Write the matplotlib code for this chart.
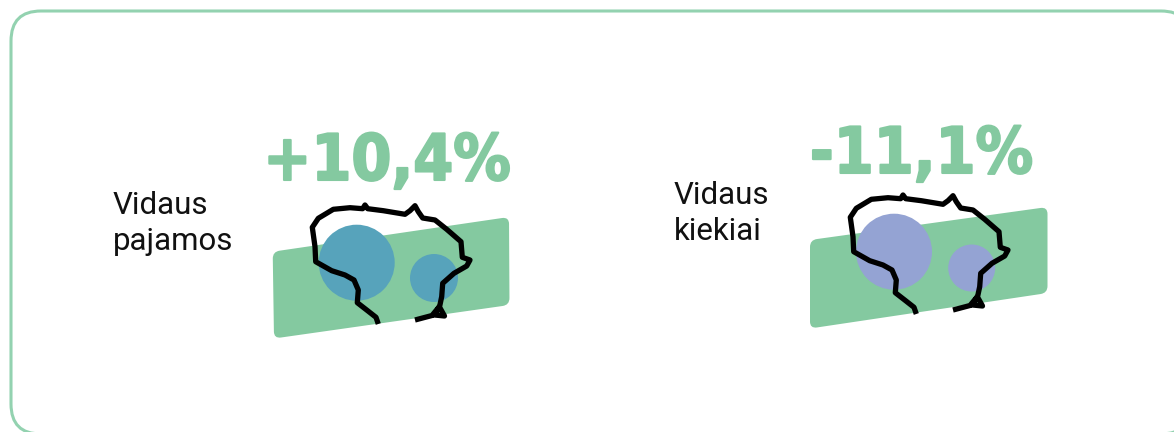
import matplotlib
matplotlib.use("Agg")
import numpy as np
import matplotlib.pyplot as plt
import matplotlib.patheffects as pe
from matplotlib.patches import Circle, FancyBboxPatch, PathPatch
from matplotlib.path import Path

GREEN = "#84c9a0"
BORDER = "#93d2b0"
TEAL = "#57a3bb"
LILAC = "#94a3d3"

labels = [["Vidaus", "pajamos"], ["Vidaus", "kiekiai"]]
values = ["+10,4%", "-11,1%"]
value_x = [387, 921.5]
value_base = [180, 173]
label_x = [113, 674]
label_base = [[214, 250], [204, 240]]
circle_colors = [TEAL, LILAC]
big_circles = [(356.7, 262.7, 38), (894, 251.7, 38)]
small_circles = [(434, 278, 24), (971.7, 268, 23.5)]
bands = [
    [(272.7, 251.7), (509, 217), (509.5, 305), (274, 338.5)],
    [(810, 240), (1047.5, 207), (1047.5, 293), (810, 328.5)],
]
map_offsets = [(0, 0), (538, -10)]
outline_x = [378.3, 376, 366.7, 357.3, 358.3, 354, 345, 331.7, 315.7, 315, 312.3, 318.3,
             333.3, 350, 362.7, 365, 367.7, 383.3, 405, 410, 415, 418.3, 422.7, 435,
             446.7, 461, 462.3, 470, 466.7, 454, 442.7, 441.7, 439.5, 444.5, 434.5, 439, 432, 415]
outline_y = [324, 317.3, 310, 302.7, 290, 280, 275, 270.7, 261.7, 246.7, 227.3, 218.3,
             209.3, 207.7, 208.7, 205, 208.7, 210.7, 214.3, 210.7, 205.7, 211.7, 218, 220,
             229.3, 241.7, 257.3, 260, 266, 273.3, 283.3, 296.7, 307, 316, 315, 307, 315.5, 320]


def rounded_poly(corners, r):
    # polygon with its corners cut by quadratic curves
    pts = np.array(corners, dtype=float)
    verts, codes = [], []
    for i in range(len(pts)):
        p, prev, nxt = pts[i], pts[i - 1], pts[(i + 1) % len(pts)]
        a = p + (prev - p) / np.linalg.norm(prev - p) * r
        b = p + (nxt - p) / np.linalg.norm(nxt - p) * r
        verts += [a, p, b]
        codes += [Path.LINETO if i else Path.MOVETO, Path.CURVE3, Path.CURVE3]
    verts.append(verts[0])
    codes.append(Path.CLOSEPOLY)
    return Path(verts, codes)


fig = plt.figure(figsize=(11.74, 4.32), dpi=100)
ax = fig.add_axes([0, 0, 1, 1])
ax.set_xlim(0, 1174)
ax.set_ylim(432, 0)
ax.axis("off")

ax.add_patch(FancyBboxPatch((11, 11), 1180, 423, boxstyle="round,pad=0,rounding_size=30",
                            fc="white", ec=BORDER, lw=2.2))

for i in range(2):
    ax.add_patch(PathPatch(rounded_poly(bands[i], 7), fc=GREEN, ec="none", zorder=2))
    for c in (big_circles[i], small_circles[i]):
        ax.add_patch(Circle(c[:2], c[2], fc=circle_colors[i], ec="none", zorder=3))
    dx, dy = map_offsets[i]
    ax.plot(np.array(outline_x) + dx, np.array(outline_y) + dy, color="black", lw=3.8,
            solid_joinstyle="round", solid_capstyle="butt", zorder=4)
    ax.text(value_x[i], value_base[i], values[i], color=GREEN, ha="center", va="baseline",
            fontsize=46, fontweight="bold", family="DejaVu Sans", stretch="condensed",
            path_effects=[pe.withStroke(linewidth=1.5, foreground=GREEN)])
    for line, base in zip(labels[i], label_base[i]):
        ax.text(label_x[i], base, line, color="#111111", ha="left", va="baseline",
                fontsize=22.5, family="Roboto")

fig.savefig("out.png", dpi=100)
